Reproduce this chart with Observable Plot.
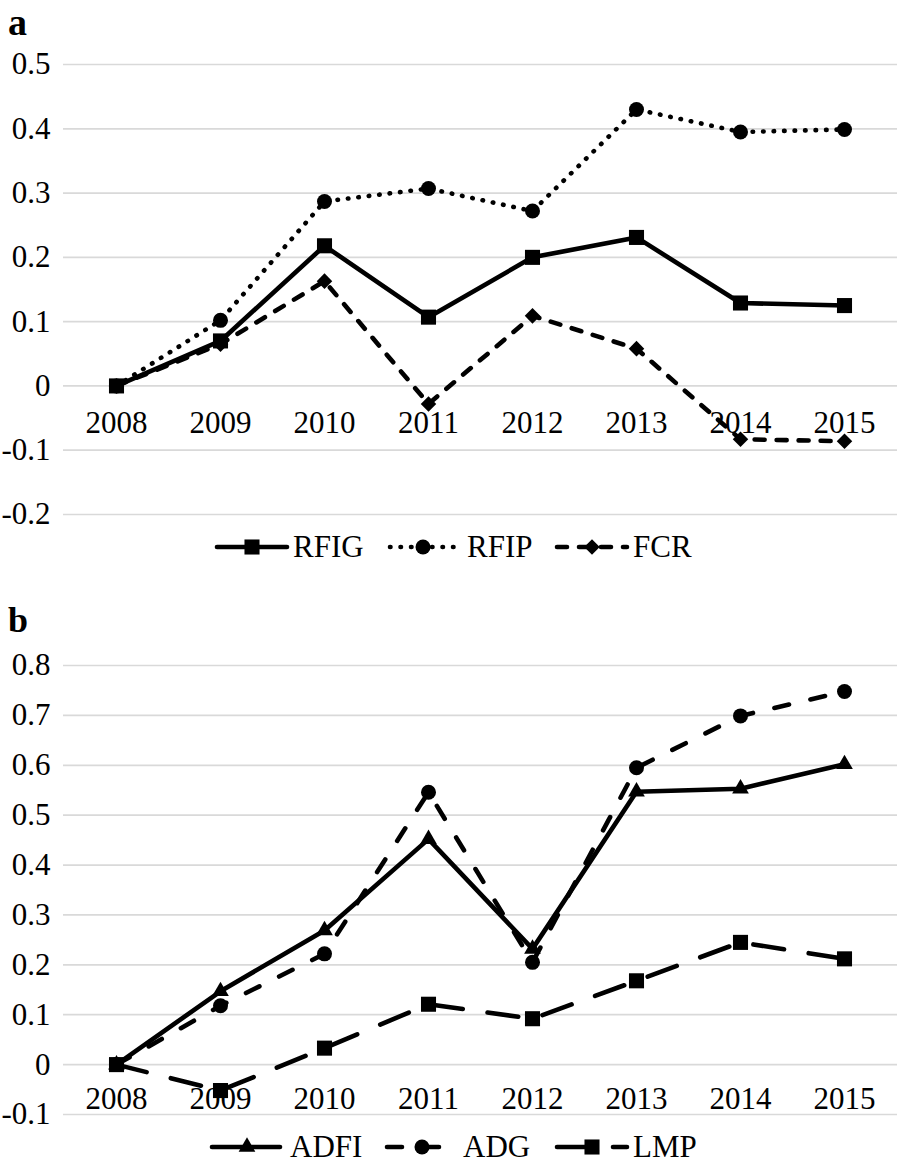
<!DOCTYPE html>
<html><head><meta charset="utf-8">
<script src="https://cdn.jsdelivr.net/npm/d3@7"></script>
<script src="https://cdn.jsdelivr.net/npm/@observablehq/plot@0.6"></script>
<style>
html,body{margin:0;padding:0;background:#fff;}
#page{position:relative;width:898px;height:1166px;overflow:hidden;background:#fff;font-family:'Liberation Serif',serif;}
.panel{position:absolute;left:0;}
#overlay{position:absolute;left:0;top:0;}
svg text{font-family:'Liberation Serif',serif !important;}
</style></head>
<body>
<div id="page">
  <div id="pa" class="panel" style="top:0px"></div>
  <div id="pb" class="panel" style="top:600px"></div>
</div>
<script>
// ---------- data ----------
const years = [2008, 2009, 2010, 2011, 2012, 2013, 2014, 2015];
const rfig = [0, 0.070, 0.218, 0.107, 0.200, 0.231, 0.129, 0.125];
const rfip = [0, 0.102, 0.287, 0.307, 0.272, 0.430, 0.395, 0.399];
const fcr  = [0, 0.065, 0.163, -0.028, 0.109, 0.058, -0.083, -0.086];
const adfi = [0, 0.147, 0.269, 0.452, 0.232, 0.547, 0.553, 0.602];
const adg  = [0, 0.118, 0.222, 0.546, 0.205, 0.595, 0.699, 0.748];
const lmp  = [0, -0.052, 0.033, 0.121, 0.092, 0.168, 0.245, 0.212];
const yTicksA = [-0.2, -0.1, 0, 0.1, 0.2, 0.3, 0.4, 0.5];
const yTicksB = [-0.1, 0, 0.1, 0.2, 0.3, 0.4, 0.5, 0.6, 0.7, 0.8];
const seriesNamesA = ["RFIG", "RFIP", "FCR"];
const seriesNamesB = ["ADFI", "ADG", "LMP"];

// ---------- styles ----------
const SW = 4.6;
const styleA = [
  {values: rfig, symbol: "square", d3sym: d3.symbolSquare, r: 8.5, dash: undefined},
  {values: rfip, symbol: "circle", d3sym: d3.symbolCircle, r: 7.5, dash: "0.5 10"},
  {values: fcr, symbol: "diamond2", d3sym: d3.symbolDiamond2, r: 7, dash: "10 12"}
];
const styleB = [
  {values: adfi, symbol: "triangle", d3sym: d3.symbolTriangle, r: 6.2, dash: undefined},
  {values: adg, symbol: "circle", d3sym: d3.symbolCircle, r: 7.5, dash: "15 22"},
  {values: lmp, symbol: "square", d3sym: d3.symbolSquare, r: 8.5, dash: "31 25"}
];
const FONT = "'Liberation Serif', serif";

function panel(series, yTicks, yDomain, marginTop, labelDy) {
  const marks = [
    Plot.gridY(yTicks, {stroke: "#d9d9d9", strokeOpacity: 1, strokeWidth: 1.7}),
    Plot.axisY({ticks: yTicks, tickSize: 0, tickPadding: 13, fontSize: 31, tickFormat: d => String(d), label: null}),
    Plot.text(years, {x: d => d, y: 0, text: d => String(d), fontSize: 31, dy: labelDy, fill: "black"})
  ];
  const rowsList = series.map(s => years.map((year, i) => ({year, value: s.values[i]})));
  series.forEach((s, k) => {
    marks.push(Plot.line(rowsList[k], {
      x: "year", y: "value", stroke: "black", strokeWidth: SW,
      strokeDasharray: s.dash,
      strokeLinecap: s.dash ? "round" : "butt",
      strokeLinejoin: s.dash ? "round" : "miter"
    }));
  });
  series.forEach((s, k) => {
    marks.push(Plot.dot(rowsList[k], {x: "year", y: "value", symbol: s.symbol, r: s.r, fill: "black", stroke: "none"}));
  });
  return Plot.plot({
    width: 898, height: 540,
    marginTop, marginBottom: 540 - 514, marginLeft: 63, marginRight: 1,
    x: {type: "point", domain: years, padding: 0.5, axis: null},
    y: {domain: yDomain, axis: null, label: null},
    style: {fontFamily: FONT, color: "black", background: "transparent", overflow: "visible"},
    marks
  });
}

document.getElementById("pa").appendChild(panel(styleA, yTicksA, [-0.2, 0.5], 64, 37.5));
document.getElementById("pb").appendChild(panel(styleB, yTicksB, [-0.1, 0.8], 65, 34));

// ---------- panel letters & legends ----------
const ov = d3.select("#page").append("svg").attr("id", "overlay")
  .attr("width", 898).attr("height", 1166)
  .style("font-family", FONT).style("pointer-events", "none");

ov.append("text").attr("x", 8).attr("y", 35).attr("font-size", 38).attr("font-weight", "bold").attr("fill", "black").text("a");
ov.append("text").attr("x", 8).attr("y", 632).attr("font-size", 36).attr("font-weight", "bold").attr("fill", "black").text("b");

function legend(names, styles, cy, layout) {
  names.forEach((name, i) => {
    const [x0, x1, mx, tx] = layout[i];
    const s = styles[i];
    ov.append("line").attr("x1", x0).attr("x2", x1).attr("y1", cy).attr("y2", cy)
      .attr("stroke", "black").attr("stroke-width", SW)
      .attr("stroke-dasharray", s.dash || null)
      .attr("stroke-linecap", "round");
    ov.append("path").attr("transform", `translate(${mx},${cy})`)
      .attr("d", d3.symbol().type(s.d3sym).size(Math.PI * s.r * s.r)())
      .attr("fill", "black");
    ov.append("text").attr("x", tx).attr("y", cy + 10).attr("font-size", 31).attr("fill", "black").text(name);
  });
}
legend(seriesNamesA, styleA, 547, [[217, 287, 252, 293], [390, 455, 423, 467], [557, 627, 592, 633]]);
legend(seriesNamesB, styleB, 1147, [[212, 280, 247, 290], [387, 455, 422, 463], [557, 627, 592, 633]]);
</script>
</body></html>
